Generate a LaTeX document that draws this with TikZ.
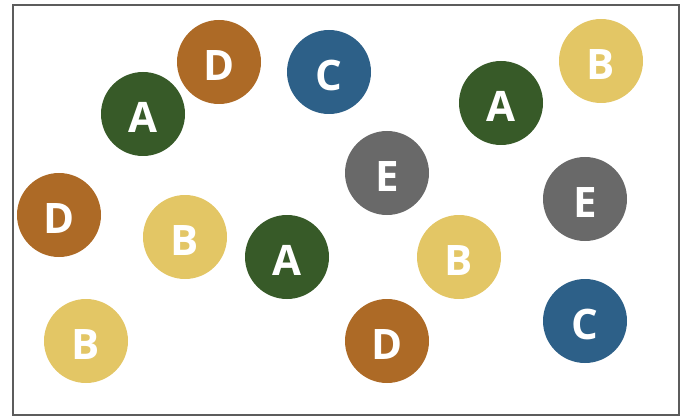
\documentclass[tikz,border=0pt]{standalone}
\usepackage{fontspec}
\setmainfont{Open Sans}
\definecolor{cgreen}{HTML}{375A28}
\definecolor{cbrown}{HTML}{AD6A26}
\definecolor{cblue}{HTML}{2D6088}
\definecolor{cyellow}{HTML}{E3C665}
\definecolor{cgray}{HTML}{696969}
\definecolor{frame}{HTML}{5C5C5C}
\begin{document}
\begin{tikzpicture}[x=1pt,y=-1pt,
  dot/.style={circle,minimum size=84pt,inner sep=0pt,text=white,
    text height=37pt,text depth=0pt,
    font=\fontsize{42}{42}\selectfont\bfseries},
  ga/.style={dot,fill=cgreen},
  bd/.style={dot,fill=cbrown},
  bc/.style={dot,fill=cblue},
  yb/.style={dot,fill=cyellow},
  ge/.style={dot,fill=cgray}]
\useasboundingbox (0,0) rectangle (683,417);
\draw[frame,line width=2.4pt] (13,5) rectangle (679,415);
\node[bd] (d1) at (219,62) {D};
\node[bc] (c1) at (329,72) {C};
\node[yb] (b1) at (601,61) {B};
\node[ga] (a1) at (143,114) {A};
\node[ga] (a2) at (501,103) {A};
\node[ge] (e1) at (387,173) {E};
\node[ge] (e2) at (585,199) {E};
\node[bd] (d2) at (59,215) {D};
\node[yb] (b2) at (185,237) {B};
\node[ga] (a3) at (287,257) {A};
\node[yb] (b3) at (459,257) {B};
\node[yb] (b4) at (86,341) {B};
\node[bd] (d3) at (387,341) {D};
\node[bc] (c2) at (585,321) {C};
\end{tikzpicture}
\end{document}
